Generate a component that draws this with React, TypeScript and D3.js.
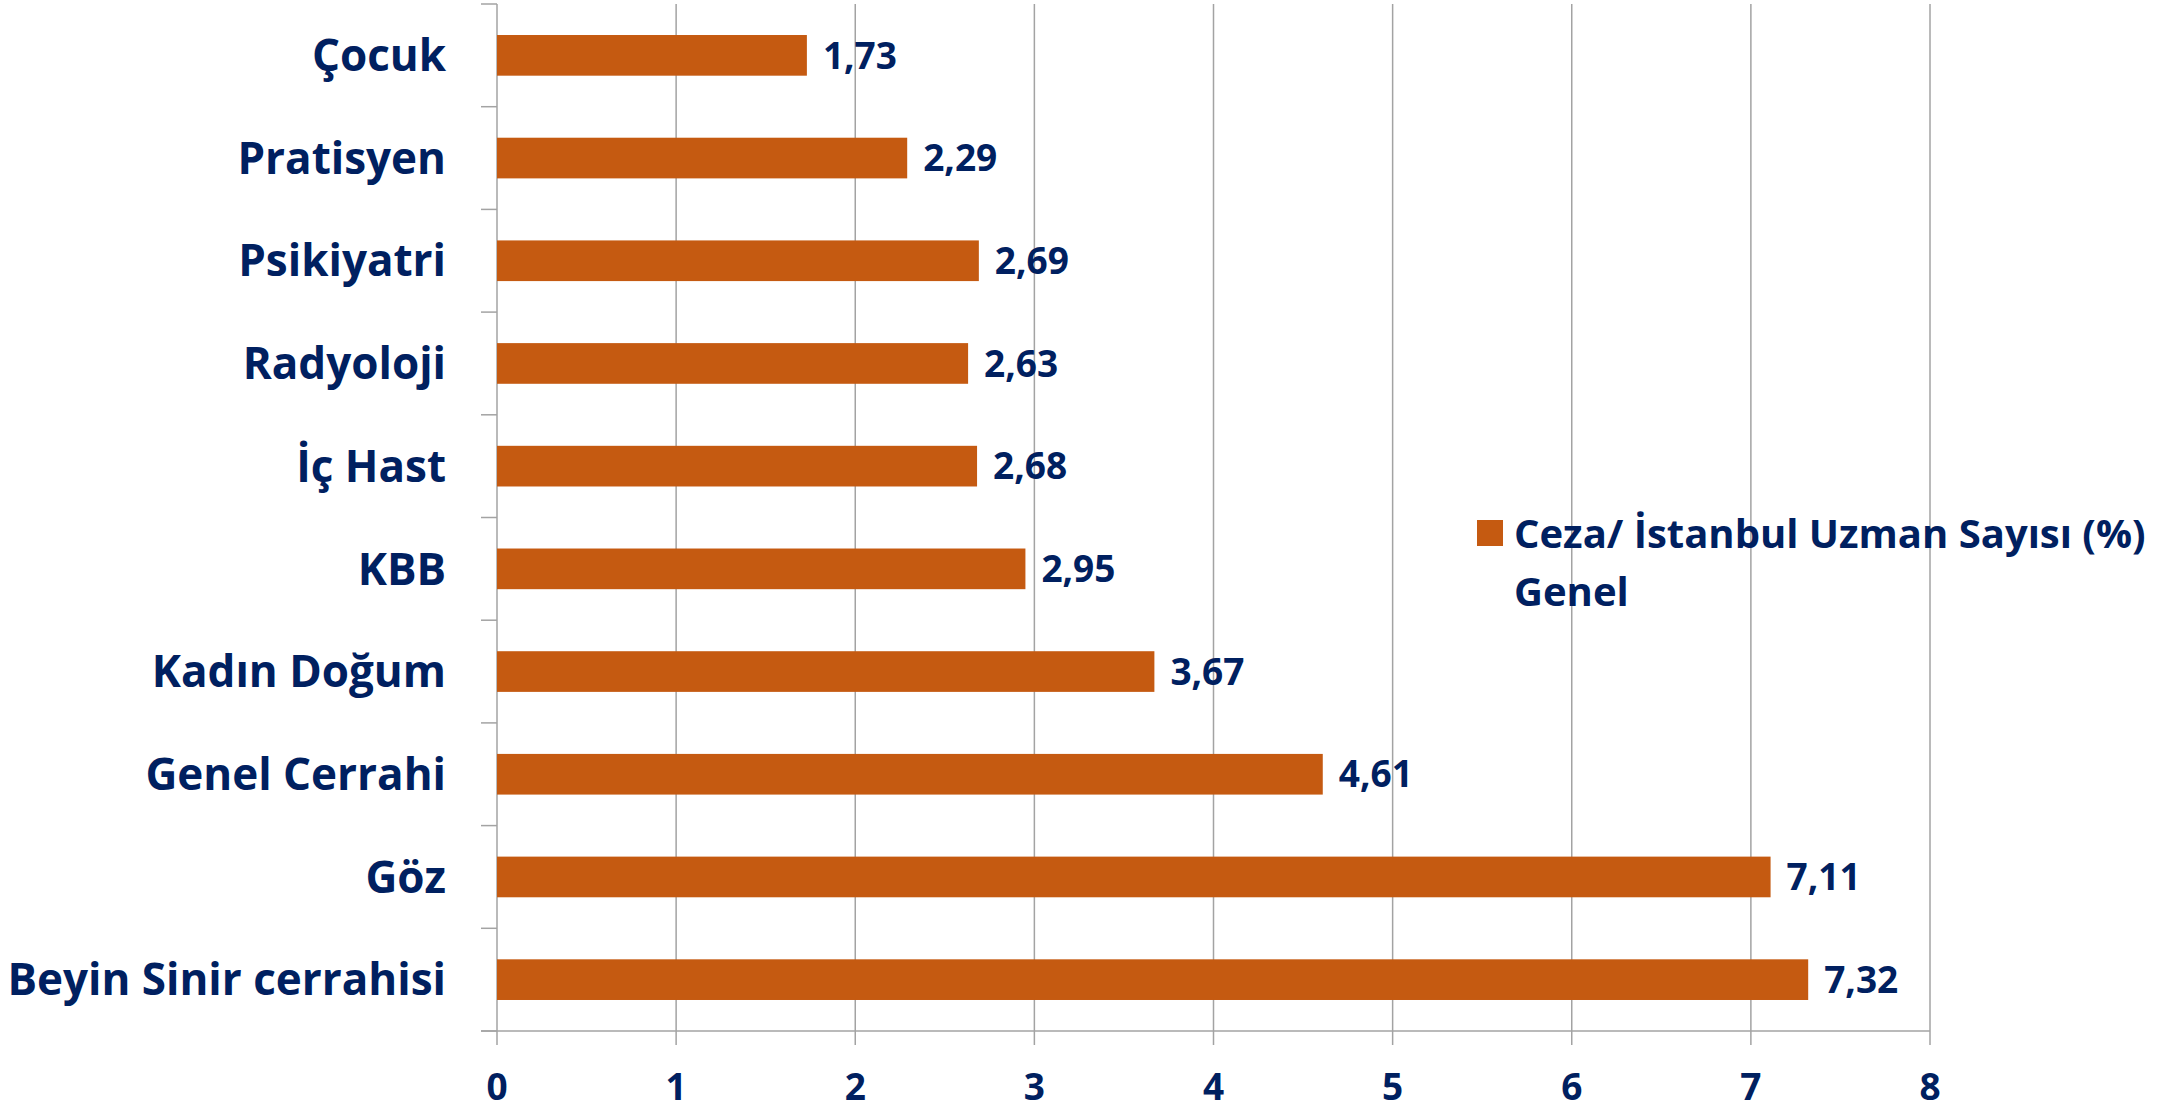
import React from "react";
import * as d3 from "d3";

const categories = [
  "Çocuk",
  "Pratisyen",
  "Psikiyatri",
  "Radyoloji",
  "İç Hast",
  "KBB",
  "Kadın Doğum",
  "Genel Cerrahi",
  "Göz",
  "Beyin Sinir cerrahisi",
];
const values = [1.73, 2.29, 2.69, 2.63, 2.68, 2.95, 3.67, 4.61, 7.11, 7.32];
const xTicks = [0, 1, 2, 3, 4, 5, 6, 7, 8];
const legendLines = ["Ceza/ İstanbul Uzman Sayısı (%)", "Genel"];

const W = 2182;
const H = 1110;
const left = 497;
const right = 1930;
const top = 4;
const bottom = 1031;
const textColor = "#002060";
const barColor = "#C55A11";
const gridColor = "#A3A3A3";
const font = "'Open Sans', Lato, sans-serif";

export default function App() {
  const x = d3.scaleLinear().domain([0, 8]).range([left, right]);
  const y = d3
    .scaleBand<string>()
    .domain(categories)
    .range([top, bottom])
    .paddingInner(0.604)
    .paddingOuter(0.302);
  const step = y.step();
  const bounds = d3.range(categories.length + 1).map((i) => top + i * step);
  const catFs = 44;
  const legFs = 40;
  const numFs = 37;
  const fmt = (v: number) => v.toFixed(2).replace(".", ",");

  return (
    <svg
      width={W}
      height={H}
      style={{ position: "absolute", left: 0, top: 0, display: "block", background: "#fff" }}
    >
      {xTicks.map((t) => (
        <line
          key={"g" + t}
          x1={x(t)}
          x2={x(t)}
          y1={top}
          y2={bottom + 14}
          stroke={gridColor}
          strokeWidth={1.5}
        />
      ))}
      {bounds.map((b, i) => (
        <line key={"yt" + i} x1={left - 16} x2={left} y1={b} y2={b} stroke={gridColor} strokeWidth={1.5} />
      ))}
      <line x1={left - 16} x2={right} y1={bottom} y2={bottom} stroke={gridColor} strokeWidth={1.5} />
      {categories.map((c, i) => (
        <rect
          key={"b" + c}
          x={x(0)}
          y={y(c)!}
          width={x(values[i]) - x(0)}
          height={y.bandwidth()}
          fill={barColor}
        />
      ))}
      {categories.map((c) => (
        <text
          key={"l" + c}
          x={446}
          y={y(c)! + y.bandwidth() / 2 + catFs * 0.357}
          textAnchor="end"
          fontFamily={font}
          fontWeight={700}
          fontSize={catFs}
          fill={textColor}
        >
          {c}
        </text>
      ))}
      {categories.map((c, i) => (
        <text
          key={"v" + c}
          x={x(values[i]) + 16}
          y={y(c)! + y.bandwidth() / 2 + numFs * 0.357}
          fontFamily={font}
          fontWeight={700}
          fontSize={numFs}
          fill={textColor}
        >
          {fmt(values[i])}
        </text>
      ))}
      {xTicks.map((t) => (
        <text
          key={"xt" + t}
          x={x(t)}
          y={1100}
          textAnchor="middle"
          fontFamily={font}
          fontWeight={700}
          fontSize={numFs}
          fill={textColor}
        >
          {t}
        </text>
      ))}
      <rect x={1477} y={520} width={26} height={26} fill={barColor} />
      {legendLines.map((l, i) => (
        <text
          key={"lg" + i}
          x={1514}
          y={548 + i * 58}
          fontFamily={font}
          fontWeight={700}
          fontSize={legFs}
          fill={textColor}
        >
          {l}
        </text>
      ))}
    </svg>
  );
}
